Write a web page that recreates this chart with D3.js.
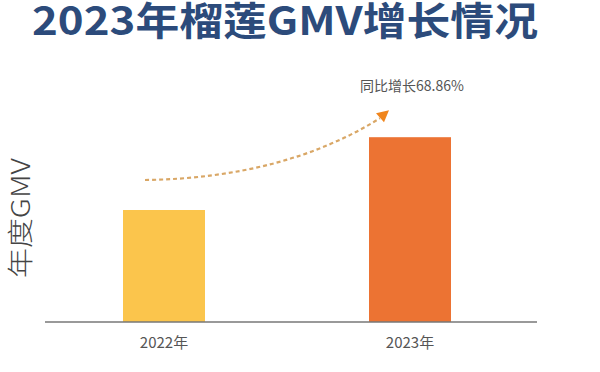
<!DOCTYPE html>
<html>
<head>
<meta charset="utf-8">
<script src="https://cdn.jsdelivr.net/npm/d3@7"></script>
<style>
  body { margin: 0; background: #fff; }
  svg { display: block; }
</style>
</head>
<body>
<script>
const years = ['2022年', '2023年'];
const gmv = [1.0, 1.65];
const colors = ['#fbc54c', '#ec7333'];
const growthLabel = '同比增长68.86%';
const title = '2023年榴莲GMV增长情况';
const yLabel = '年度GMV';

const width = 600, height = 372;
const baseY = 322;

const svg = d3.select('body')
    .append('svg')
    .attr('width', width)
    .attr('height', height)

const x = d3.scaleBand()
    .domain(years)
    .range([41, 533])
    .paddingInner(2 / 3)
    .paddingOuter(1 / 3)

const y = d3.scaleLinear()
    .domain([0, 1])
    .range([baseY, 210])

// title
svg.append('text')
    .attr('x', 32)
    .attr('y', 35)
    .attr('font-family', '"Noto Sans CJK SC", "Noto Sans", sans-serif')
    .attr('font-weight', 700)
    .attr('font-size', 39)
    .attr('textLength', 506)
    .attr('lengthAdjust', 'spacingAndGlyphs')
    .attr('fill', '#2c4b7b')
    .text(title)

// bars
svg.selectAll('rect.bar')
    .data(gmv)
    .enter()
    .append('rect')
    .attr('class', 'bar')
    .attr('x', (d, i) => x(years[i]))
    .attr('width', x.bandwidth())
    .attr('y', d => y(d))
    .attr('height', d => baseY - y(d))
    .attr('fill', (d, i) => colors[i])

// baseline + labels
const xAxis = d3.axisBottom(x).tickSize(0).tickPadding(15);
const gx = svg.append('g')
    .attr('transform', 'translate(0,' + baseY + ')')
    .call(xAxis)
gx.select('.domain').remove();
gx.append('line')
    .attr('x1', 45).attr('x2', 537)
    .attr('stroke', '#777').attr('stroke-width', 1.5)
gx.selectAll('text')
    .attr('font-family', '"Noto Sans CJK SC", sans-serif')
    .attr('font-size', 15)
    .attr('fill', '#555')

// y label
svg.append('text')
    .attr('transform', 'translate(30,218) rotate(-90)')
    .attr('text-anchor', 'middle')
    .attr('font-family', '"Noto Sans CJK SC", sans-serif')
    .attr('font-weight', 300)
    .attr('font-size', 26)
    .attr('textLength', 120)
    .attr('lengthAdjust', 'spacingAndGlyphs')
    .attr('fill', '#444')
    .text(yLabel)

// growth arrow
const cx0 = x(years[0]) + x.bandwidth() / 2;
const cx1 = x(years[1]) + x.bandwidth() / 2;
const p0 = [cx0 - 19, y(gmv[0]) - 30];
const p1 = [cx1 - 30, y(gmv[1]) - 19];
const ctrl = [cx0 + 120, p0[1] - 2];

svg.append('path')
    .attr('d', `M${p0[0]},${p0[1]} Q${ctrl[0]},${ctrl[1]} ${p1[0]},${p1[1]}`)
    .attr('fill', 'none')
    .attr('stroke', '#d9a766')
    .attr('stroke-width', 2.2)
    .attr('stroke-dasharray', '4,3')

const tip = [cx1 - 21, y(gmv[1]) - 27];
svg.append('path')
    .attr('d', `M${tip[0]},${tip[1]} L${tip[0] - 13},${tip[1] + 3} L${tip[0] - 5},${tip[1] + 12} Z`)
    .attr('fill', '#f0851c')

svg.append('text')
    .attr('x', 360)
    .attr('y', 91)
    .attr('font-family', '"Noto Sans CJK SC", sans-serif')
    .attr('font-size', 14)
    .attr('fill', '#555')
    .text(growthLabel)
</script>
</body>
</html>
